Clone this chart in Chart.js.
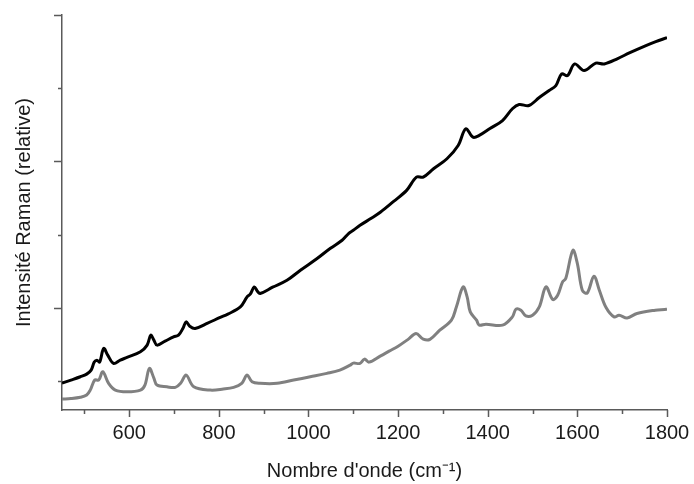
<!DOCTYPE html>
<html>
<head>
<meta charset="utf-8">
<script src="https://cdn.jsdelivr.net/npm/chart.js@4/dist/chart.umd.min.js"></script>
<style>
html,body{margin:0;padding:0;background:#fff;}
#wrap{width:694px;height:484px;}
</style>
</head>
<body>
<div id="wrap"><canvas id="c" width="694" height="484"></canvas></div>
<script>
// Wavenumbers (cm-1) and relative intensities
const blackX = [450,470,491,505,515,522,528,534,543,552,565,580,595,625,640,648,655,662,680,699,710,720,727,735,747,775,803,820,848,863,870,879,886,892,920,952,982,1020,1049,1075,1090,1100,1115,1140,1161,1190,1219,1241,1256,1279,1309,1334,1351,1367,1381,1405,1433,1455,1470,1492,1515,1537,1552,1565,1578,1594,1615,1641,1660,1690,1716,1753,1775,1800];
const blackY = [973,1014,1059,1095,1150,1259,1286,1259,1446,1355,1241,1286,1323,1400,1491,1627,1559,1491,1545,1604,1627,1723,1809,1750,1719,1791,1869,1914,2013,2150,2186,2286,2227,2196,2282,2377,2514,2677,2814,2923,3018,3059,3127,3223,3309,3454,3605,3786,3786,3900,4037,4218,4446,4331,4355,4450,4559,4719,4777,4764,4873,4968,5036,5196,5173,5332,5241,5342,5332,5405,5482,5582,5636,5691];

const grayX = [450,470,491,505,513,523,532,541,554,569,595,625,635,645,655,662,684,703,715,727,744,781,810,833,851,863,874,892,930,967,1004,1041,1070,1093,1100,1115,1125,1135,1160,1180,1200,1223,1240,1256,1271,1293,1319,1330,1345,1354,1361,1375,1381,1396,1433,1455,1463,1474,1485,1500,1515,1530,1545,1556,1567,1574,1590,1600,1611,1622,1637,1649,1664,1682,1693,1711,1733,1774,1795,1800];
const grayY = [755,761,778,809,877,1014,1014,1127,969,877,854,877,945,1173,1041,945,922,914,973,1082,922,877,891,914,969,1082,990,969,969,1014,1059,1105,1150,1218,1245,1241,1300,1259,1341,1409,1477,1573,1650,1573,1569,1695,1832,2013,2286,2150,1945,1832,1764,1777,1764,1877,1982,1968,1890,1900,2013,2286,2114,2173,2354,2400,2786,2605,2241,2204,2432,2241,2005,1877,1900,1863,1923,1968,1978,1982];

const xTicks = [500,600,700,800,900,1000,1100,1200,1300,1400,1500,1600,1700,1800];
const xLabels = [600,800,1000,1200,1400,1600,1800];
const yTicks = [1000,2000,3000,4000,5000,6000];
const yMajor = [2000,4000,6000];

const xTitle = "Nombre d'onde (cm\u207B\u00B9)";
const yTitle = "Intensité Raman (relative)";

const FONT = "'Liberation Sans', Arial, Helvetica, sans-serif";
const AXIS = '#5a5a5a';

const toPts = (xs, ys) => xs.map((x, i) => ({x: x, y: ys[i]}));

const tickPlugin = {
  id: 'ticks',
  afterDraw(chart) {
    const ctx = chart.ctx;
    const xs = chart.scales.x, ys = chart.scales.y;
    const area = chart.chartArea;
    ctx.save();
    ctx.strokeStyle = AXIS;
    ctx.lineWidth = 1.5;
    ctx.beginPath();
    xTicks.forEach(v => {
      const px = Math.round(xs.getPixelForValue(v)) + 0.5;
      const len = xLabels.includes(v) ? 7 : 4;
      ctx.moveTo(px, area.bottom);
      ctx.lineTo(px, area.bottom + len);
    });
    yTicks.forEach(v => {
      const py = Math.round(ys.getPixelForValue(v)) + 0.5;
      const len = yMajor.includes(v) ? 8 : 4;
      ctx.moveTo(area.left, py);
      ctx.lineTo(area.left - len, py);
    });
    ctx.stroke();
    ctx.restore();
  }
};

new Chart(document.getElementById('c'), {
  type: 'line',
  data: {
    datasets: [
      {data: toPts(grayX, grayY), borderColor: '#808080', borderWidth: 3, pointRadius: 0, tension: 0.35, fill: false},
      {data: toPts(blackX, blackY), borderColor: '#000000', borderWidth: 3, pointRadius: 0, tension: 0.35, fill: false}
    ]
  },
  options: {
    responsive: false,
    devicePixelRatio: 1,
    animation: false,
    events: [],
    layout: {padding: {top: 15, right: 27, left: 0, bottom: 0}},
    plugins: {legend: {display: false}, tooltip: {enabled: false}},
    scales: {
      x: {
        type: 'linear',
        min: 450, max: 1800,
        afterBuildTicks: s => { s.ticks = xLabels.map(v => ({value: v})); },
        afterFit: s => { s.height = 74; s.paddingLeft = 0; s.paddingRight = 0; },
        grid: {display: true, drawOnChartArea: false, drawTicks: false},
        border: {display: true, color: AXIS, width: 1.5},
        ticks: {autoSkip: false, maxRotation: 0, padding: 11, color: '#1a1a1a', font: {family: FONT, size: 20},
                callback: v => String(v)},
        title: {display: true, text: xTitle, color: '#1a1a1a', font: {family: FONT, size: 20}, padding: {top: 0, bottom: 1}}
      },
      y: {
        type: 'linear',
        min: 605, max: 6000,
        afterBuildTicks: s => { s.ticks = yTicks.map(v => ({value: v})); },
        afterFit: s => { s.width = 62; s.paddingTop = 0; s.paddingBottom = 0; },
        grid: {display: true, drawOnChartArea: false, drawTicks: false},
        border: {display: true, color: AXIS, width: 1.5},
        ticks: {display: false},
        title: {display: true, text: yTitle, color: '#1a1a1a', font: {family: FONT, size: 20}, padding: {top: 12, bottom: 0}}
      }
    }
  },
  plugins: [tickPlugin]
});
</script>
</body>
</html>
